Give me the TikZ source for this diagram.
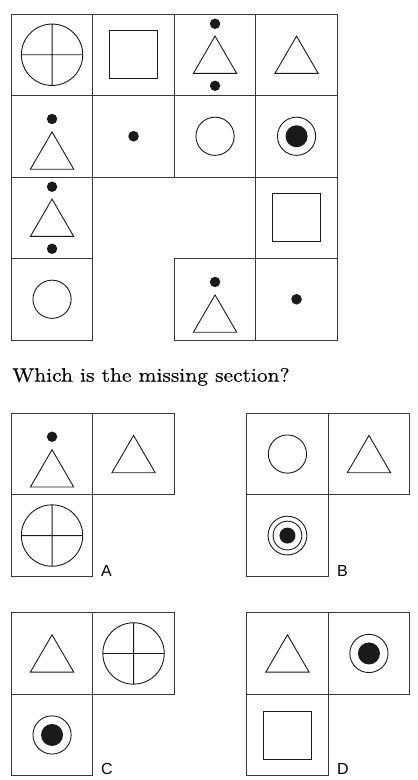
\documentclass[tikz,border=0pt]{standalone}
\usepackage{fontspec}
\newfontfamily\labelfont{Liberation Sans}
\newfontfamily\questionfont{lmroman10-regular.otf}[FakeStretch=1.1, FakeBold=0.4]
\usepackage{xcolor}
\definecolor{ink}{HTML}{1A1A1A}
\definecolor{rule}{HTML}{3A3A3A}
\usepackage{tikz}

\tikzset{
  figline/.style={draw=ink, line width=0.9pt},
  blob/.style={fill=ink},
  cellbox/.pic={\draw[rule, line width=1pt] (-40.75,-40.75) rectangle (40.75,40.75);},
  crossring/.pic={\draw[figline] (0,0) circle[radius=30.7] (-30.7,0) -- (30.7,0) (0,-30.7) -- (0,30.7);},
  sqbox/.pic={\draw[figline] (-24,-24) rectangle (24,24);},
  tri/.pic={\draw[figline] (0,-18.65) -- (21.65,18.65) -- (-21.65,18.65) -- cycle;},
  tritwo/.pic={\draw[figline] (0,-18.65) -- (21.65,18.65) -- (-21.65,18.65) -- cycle;
    \fill[blob] (0,-31) circle[radius=5.2] (0,31) circle[radius=5.2];},
  trione/.pic={\draw[figline] (0,-4.35) -- (21.65,32.95) -- (-21.65,32.95) -- cycle;
    \fill[blob] (0,-17.3) circle[radius=5.2];},
  spot/.pic={\fill[blob] (0,0) circle[radius=5.3];},
  ring/.pic={\draw[figline] (0,0) circle[radius=19.1];},
  target/.pic={\draw[figline] (0,0) circle[radius=19.1]; \fill[blob] (0,0) circle[radius=11];},
  bullseye/.pic={\draw[figline] (0,0) circle[radius=19.4] (0,0) circle[radius=14.4];
    \fill[blob] (0,0) circle[radius=8];},
  optlabel/.style={anchor=base west, inner sep=0pt, font=\labelfont\fontsize{16}{18}\selectfont},
}

\begin{document}
\begin{tikzpicture}[x=1pt, y=-1pt]
  \useasboundingbox (0,0) rectangle (418,780);

  % puzzle grid
  \path (52.05,54.75)   pic{cellbox} pic{crossring};
  \path (133.55,54.75)  pic{cellbox} pic{sqbox};
  \path (215.05,54.75)  pic{cellbox} pic{tritwo};
  \path (296.55,54.75)  pic{cellbox} pic{tri};
  \path (52.05,136.25)  pic{cellbox} pic{trione};
  \path (133.55,136.25) pic{cellbox} pic{spot};
  \path (215.05,136.25) pic{cellbox} pic{ring};
  \path (296.55,136.25) pic{cellbox} pic{target};
  \path (52.05,217.75)  pic{cellbox} pic{tritwo};
  \path (296.55,217.75) pic{cellbox} pic{sqbox};
  \path (52.05,299.25)  pic{cellbox} pic{ring};
  \path (215.05,299.25) pic{cellbox} pic{trione};
  \path (296.55,299.25) pic{cellbox} pic{spot};

  \node[anchor=base west, inner sep=0pt, font=\questionfont\fontsize{19.5}{22}\selectfont]
    (question) at (12,381.7) {Which is the missing section?};

  % option A
  \path (52.05,454.05)  pic{cellbox} pic{trione};
  \path (133.55,454.05) pic{cellbox} pic{tri};
  \path (52.05,535.55)  pic{cellbox} pic{crossring};
  \node[optlabel] (optA) at (101,576) {A};

  % option B
  \path (287.45,454.05) pic{cellbox} pic{ring};
  \path (368.95,454.05) pic{cellbox} pic{tri};
  \path (287.45,535.55) pic{cellbox} pic{bullseye};
  \node[optlabel] (optB) at (337,576) {B};

  % option C
  \path (52.05,653.45)  pic{cellbox} pic{tri};
  \path (133.55,653.45) pic{cellbox} pic{crossring};
  \path (52.05,734.95)  pic{cellbox} pic{target};
  \node[optlabel] (optC) at (101,774.5) {C};

  % option D
  \path (287.45,653.45) pic{cellbox} pic{tri};
  \path (368.95,653.45) pic{cellbox} pic{target};
  \path (287.45,734.95) pic{cellbox} pic{sqbox};
  \node[optlabel] (optD) at (337,774.5) {D};
\end{tikzpicture}
\end{document}
